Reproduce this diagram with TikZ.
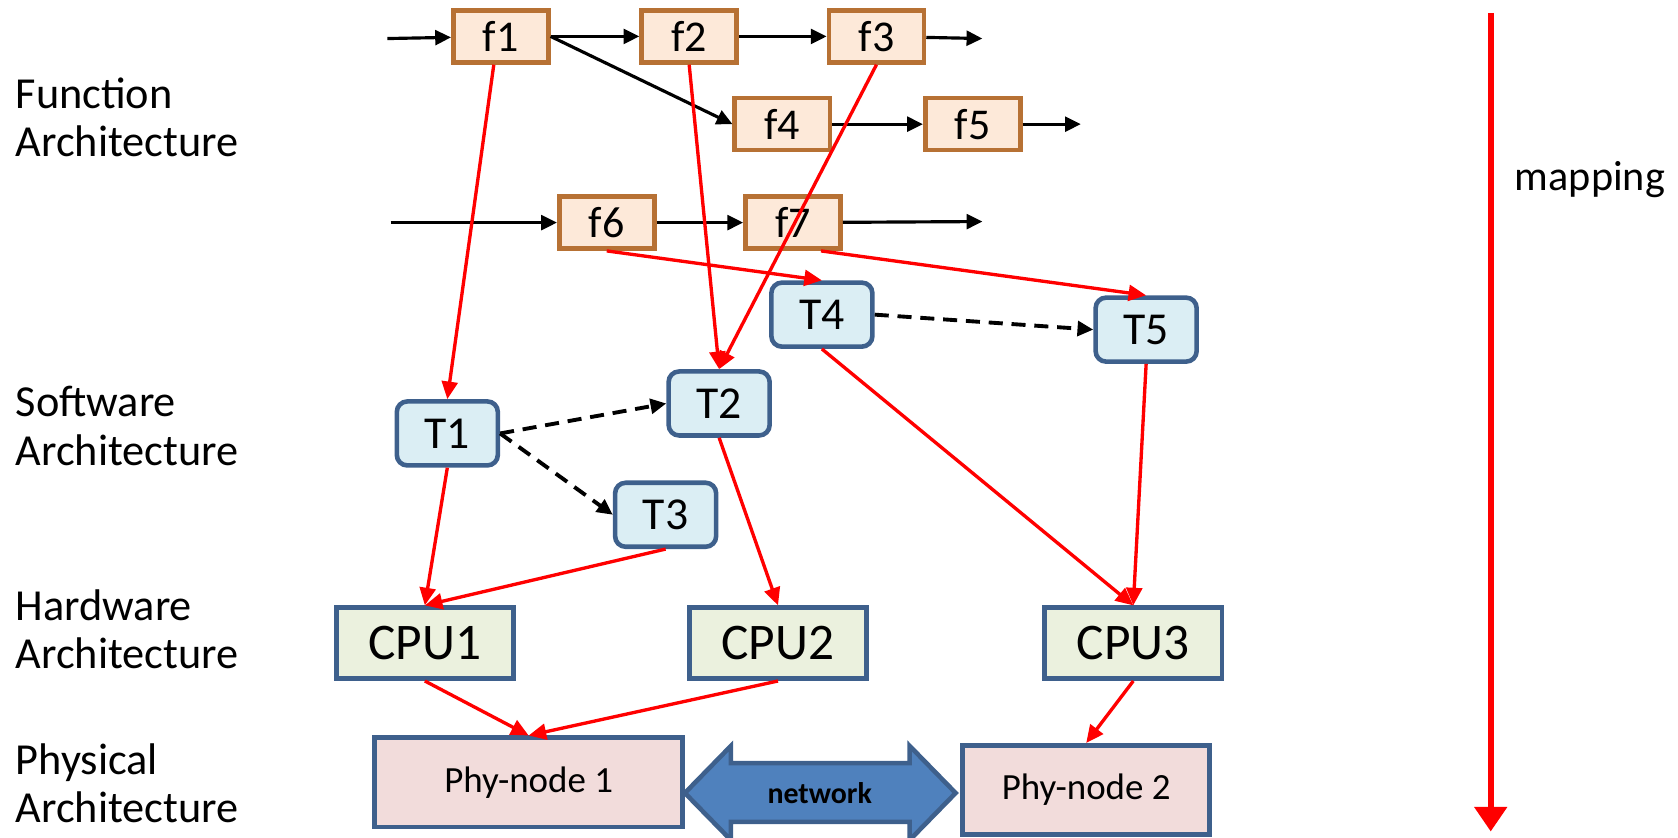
\documentclass[tikz,border=0pt]{standalone}
\usepackage{fontspec}
\setmainfont{Carlito}
\usetikzlibrary{arrows.meta,positioning,calc}

\definecolor{fbord}{RGB}{183,113,52}
\definecolor{ffill}{RGB}{253,233,217}
\definecolor{tbord}{RGB}{62,96,140}
\definecolor{tfill}{RGB}{219,238,244}
\definecolor{cfill}{RGB}{235,241,222}
\definecolor{pfill}{RGB}{242,220,219}
\definecolor{netblue}{RGB}{79,129,189}

\begin{document}
\begin{tikzpicture}[x=0.010702cm, y=-0.010702cm,
  func/.style={draw=fbord, fill=ffill, line width=1.3pt, minimum width=0.95cm, minimum height=0.52cm, inner sep=0pt, font=\fontsize{12.5}{15}\selectfont},
  task/.style={draw=tbord, fill=tfill, line width=1.3pt, rounded corners=3pt, minimum width=1.01cm, minimum height=0.64cm, inner sep=0pt, font=\fontsize{13}{15}\selectfont},
  cpu/.style={draw=tbord, fill=cfill, line width=1.3pt, minimum width=1.77cm, minimum height=0.71cm, inner sep=0pt, font=\fontsize{14.6}{18}\selectfont},
  phy/.style={draw=tbord, fill=pfill, line width=1.3pt, minimum height=0.89cm, inner sep=0pt, font=\fontsize{10.5}{12}\selectfont},
  layer/.style={anchor=west, align=left, inner sep=0pt, font=\fontsize{12.6}{13.7}\selectfont},
  flow/.style={-{Triangle[length=4.5pt,width=4.2pt]}, line width=0.9pt},
  call/.style={-{Triangle[length=4.5pt,width=4.2pt]}, line width=1.1pt, dash pattern=on 4pt off 2.5pt},
  map/.style={-{Triangle[length=5pt,width=4.5pt]}, line width=0.95pt, red}
]
\useasboundingbox (0,0) rectangle (1568,783);

% layer labels
\node[layer] (lfun) at (14,110) {Function\\Architecture};
\node[layer] (lsw) at (14,398) {Software\\Architecture};
\node[layer] (lhw) at (14,588) {Hardware\\Architecture};
\node[layer] (lphy) at (14,732) {Physical\\Architecture};

% functions
\node[func] (f1) at (468,34) {f1};
\node[func] (f2) at (644,34) {f2};
\node[func] (f3) at (819,34) {f3};
\node[func] (f4) at (731,116) {f4};
\node[func] (f5) at (909,116) {f5};
\node[func] (f6) at (567,208) {f6};
\node[func] (f7) at (741,208) {f7};

\coordinate (in1) at (362,36);
\coordinate (out3) at (918,36);
\coordinate (out5) at (1010,116);
\coordinate (in6) at (365,208);
\coordinate (out7) at (918,207);

\draw[flow] (in1) -- (f1);
\draw[flow] (f1) -- (f2);
\draw[flow] (f2) -- (f3);
\draw[flow] (f3) -- (out3);
\draw[flow] (f1.east) -- (f4.west);
\draw[flow] (f4) -- (f5);
\draw[flow] (f5) -- (out5);
\draw[flow] (in6) -- (f6);
\draw[flow] (f6) -- (f7);
\draw[flow] (f7) -- (out7);

% tasks
\node[task] (T1) at (418,405) {T1};
\node[task] (T2) at (672,377) {T2};
\node[task] (T3) at (622,481) {T3};
\node[task] (T4) at (768,294) {T4};
\node[task] (T5) at (1071,308) {T5};

\draw[call] (T1.east) -- (T2.west);
\draw[call] (T1.east) -- (T3.west);
\draw[call] (T4.east) -- (T5.west);

% processors
\node[cpu] (cpu1) at (397,601) {CPU1};
\node[cpu] (cpu2) at (727,601) {CPU2};
\node[cpu] (cpu3) at (1059,601) {CPU3};

% physical nodes
\node[phy, minimum width=3.08cm] (phy1) at (494,731) {Phy-node 1};
\node[phy, minimum width=2.47cm] (phy2) at (1015,738) {Phy-node 2};

\draw[draw=tbord, fill=netblue, line width=1.3pt]
  (640,741) -- (683,697) -- (683,713) -- (850,713) -- (850,697) -- (893,741)
  -- (850,785) -- (850,768) -- (683,768) -- (683,785) -- cycle;
\node[font=\bfseries\fontsize{8.5}{10}\selectfont] (net) at (766,741) {network};

% mapping
\draw[map] ([xshift=-2pt]f1.south) -- (T1.north);
\draw[map] (f2.south) -- (T2.north);
\draw[map] (f3.south) -- (T2.north);
\draw[map] (f6.south) -- (T4.north);
\draw[map] ([xshift=0.28cm]f7.south) -- (T5.north);
\draw[map] (T1.south) -- (cpu1.north);
\draw[map] (T3.south) -- (cpu1.north);
\draw[map] (T2.south) -- (cpu2.north);
\draw[map] (T4.south) -- (cpu3.north);
\draw[map] (T5.south) -- (cpu3.north);
\draw[map] (cpu1.south) -- (phy1.north);
\draw[map] (cpu2.south) -- (phy1.north);
\draw[map] (cpu3.south) -- (phy2.north);

\coordinate (maptop) at (1393,12);
\coordinate (mapbot) at (1393,777);
\draw[red, line width=1.8pt, -{Triangle[length=7pt,width=9pt]}] (maptop) -- (mapbot);
\node[anchor=west, inner sep=0pt, font=\fontsize{12}{14}\selectfont] (lmap) at (1415,168) {mapping};
\end{tikzpicture}
\end{document}
